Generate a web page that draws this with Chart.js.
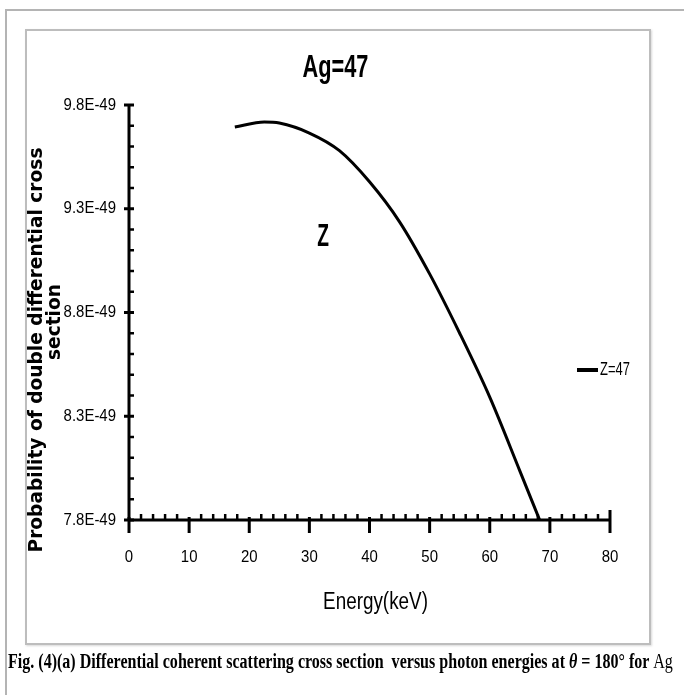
<!DOCTYPE html>
<html>
<head>
<meta charset="utf-8">
<script src="https://cdn.jsdelivr.net/npm/chart.js@4.4.1/dist/chart.umd.min.js"></script>
<style>
  html, body { margin: 0; padding: 0; background: #fff; }
  body { width: 684px; height: 695px; position: relative; overflow: hidden; }
  #outer { position: absolute; left: 5px; top: 9px; width: 720px; height: 720px;
           border-left: 2px solid #b4b4b4; border-top: 2px solid #b4b4b4; }
  #inner { position: absolute; left: 25px; top: 29px; width: 622px; height: 612px;
           border: 2px solid #bdbdbd; box-shadow: 1px 1px 2px #d8d8d8; }
  #wrap { position: absolute; left: 0; top: 0; width: 684px; height: 695px; }
  #caption { position: absolute; left: 8px; top: 650px; white-space: nowrap; color: #000;
             font: bold 20px "Liberation Serif", "Times New Roman", serif; transform-origin: 0 0; }
  #caption .reg { font-weight: normal; }
</style>
</head>
<body>
<div id="outer"></div>
<div id="inner"></div>
<div id="wrap"><canvas id="grafico" width="684" height="695"></canvas></div>
<div id="caption">Fig. (4)(a) Differential coherent scattering cross section&nbsp; versus photon energies at <i>θ</i> = 180° for <span class="reg">Ag</span></div>

<script>
// energia (keV) e seção de choque diferencial para Z = 47
const energias = [17.6, 22.5, 25, 30, 35, 40, 45, 50, 55, 60, 65, 68.3];
const secaoChoque = [9.694e-49, 9.718e-49, 9.713e-49, 9.665e-49, 9.58e-49, 9.43e-49,
                     9.237e-49, 8.986e-49, 8.70e-49, 8.392e-49, 8.037e-49, 7.80e-49];

// ticks dos eixos
const ticksY = [7.8e-49, 8.3e-49, 8.8e-49, 9.3e-49, 9.8e-49];
const ticksX = [0, 10, 20, 30, 40, 50, 60, 70, 80];

const tituloGrafico = 'Ag=47';
const tituloX = 'Energy(keV)';
const tituloY = ['Probability of double differential cross', 'section'];

const sans = '"Liberation Sans", Arial, sans-serif';

// texto comprimido na horizontal (fonte estreita tipo Calibri)
function textoEstreito(ctx, texto, x, y, fonte, escala, alinhamento) {
  ctx.save();
  ctx.font = fonte;
  ctx.fillStyle = '#000';
  ctx.textAlign = alinhamento || 'center';
  ctx.textBaseline = 'middle';
  ctx.translate(x, y);
  ctx.scale(escala, 1);
  ctx.fillText(texto, 0, 0);
  ctx.restore();
}

function rotuloY(v) {
  return (v / 1e-49).toFixed(1) + 'E-49';
}

// EIXOS NO ESTILO EXCEL (linhas grossas, marcas maiores e menores)
const eixosPlugin = {
  id: 'eixosPlugin',
  beforeDatasetsDraw(chart) {
    const ctx = chart.ctx;
    const sx = chart.scales.x;
    const sy = chart.scales.y;
    const x0 = sx.getPixelForValue(0);
    const x1 = sx.getPixelForValue(80);
    const yTop = sy.getPixelForValue(9.8e-49);
    const yBase = sy.getPixelForValue(7.8e-49);

    ctx.save();
    ctx.strokeStyle = '#000';
    ctx.lineCap = 'butt';

    // eixo Y
    ctx.lineWidth = 3;
    ctx.beginPath();
    ctx.moveTo(x0, yTop - 1);
    ctx.lineTo(x0, yBase);
    ctx.stroke();

    // marcas menores Y (a cada 0.1E-49)
    ctx.lineWidth = 2.5;
    for (let i = 1; i < 20; i++) {
      if (i % 5 === 0) continue;
      const py = sy.getPixelForValue(7.8e-49 + i * 0.1e-49);
      ctx.beginPath();
      ctx.moveTo(x0, py);
      ctx.lineTo(x0 + 5, py);
      ctx.stroke();
    }
    // marcas maiores Y
    ctx.lineWidth = 3;
    ticksY.forEach(v => {
      const py = sy.getPixelForValue(v);
      ctx.beginPath();
      ctx.moveTo(x0 - 5, py);
      ctx.lineTo(x0 + 5, py);
      ctx.stroke();
    });

    // eixo X
    ctx.beginPath();
    ctx.moveTo(x0, yBase);
    ctx.lineTo(x1 + 1, yBase);
    ctx.stroke();

    // marcas menores X (a cada 2 keV)
    ctx.lineWidth = 2.5;
    for (let e = 2; e < 80; e += 2) {
      if (e % 10 === 0) continue;
      const px = sx.getPixelForValue(e);
      ctx.beginPath();
      ctx.moveTo(px, yBase);
      ctx.lineTo(px, yBase - 6);
      ctx.stroke();
    }
    // marcas maiores X
    ctx.lineWidth = 3;
    ticksX.forEach(v => {
      const px = sx.getPixelForValue(v);
      const topo = v === 80 ? yBase - 10 : yBase - 3;
      ctx.beginPath();
      ctx.moveTo(px, topo);
      ctx.lineTo(px, yBase + 13);
      ctx.stroke();
    });
    ctx.restore();
  },
  afterDraw(chart) {
    const ctx = chart.ctx;
    const area = chart.chartArea;
    const sx = chart.scales.x;
    const sy = chart.scales.y;

    // rótulos dos ticks
    sy.ticks.forEach(t => {
      textoEstreito(ctx, rotuloY(t.value), area.left - 13, sy.getPixelForValue(t.value),
                    '17px ' + sans, 0.88, 'right');
    });
    sx.ticks.forEach(t => {
      textoEstreito(ctx, String(t.value), sx.getPixelForValue(t.value), area.bottom + 37,
                    '17px ' + sans, 0.88, 'center');
    });

    // títulos
    textoEstreito(ctx, tituloGrafico, (area.left + area.right) / 2 - 34, 68,
                  'bold 32px ' + sans, 0.68, 'center');
    textoEstreito(ctx, tituloX, (area.left + area.right) / 2 + 6, 603,
                  '23px ' + sans, 0.82, 'center');

    // título do eixo Y em duas linhas
    ctx.save();
    ctx.font = 'bold 13px "DejaVu Sans", sans-serif';
    const tam = 13 * 405 / ctx.measureText(tituloY[0]).width;
    ctx.font = 'bold ' + tam.toFixed(2) + 'px "DejaVu Sans", sans-serif';
    ctx.fillStyle = '#000';
    ctx.textAlign = 'center';
    ctx.textBaseline = 'middle';
    ctx.translate(37, 350);
    ctx.rotate(-Math.PI / 2);
    ctx.fillText(tituloY[0], 0, 0);
    ctx.setTransform(1, 0, 0, 1, 0, 0);
    ctx.translate(55, 322);
    ctx.rotate(-Math.PI / 2);
    ctx.fillText(tituloY[1], 0, 0);
    ctx.restore();

    // legenda
    const ds = chart.data.datasets[0];
    const ly = 370;
    ctx.save();
    ctx.strokeStyle = ds.borderColor;
    ctx.lineWidth = 4;
    ctx.beginPath();
    ctx.moveTo(area.right - 33, ly);
    ctx.lineTo(area.right - 12, ly);
    ctx.stroke();
    ctx.restore();
    textoEstreito(ctx, ds.label, area.right - 10, ly, '18px ' + sans, 0.72, 'left');

    // letra solta no meio do gráfico
    textoEstreito(ctx, 'Z', 323, 237, 'bold 32px ' + sans, 0.6, 'center');
  }
};

const ctx = document.getElementById('grafico').getContext('2d');

const grafico = new Chart(ctx, {
  type: 'scatter',
  data: {
    datasets: [{
      label: 'Z=47',
      data: energias.map((e, i) => ({ x: e, y: secaoChoque[i] })),
      showLine: true,
      borderColor: '#000',
      borderWidth: 3,
      pointRadius: 0,
      cubicInterpolationMode: 'monotone'
    }]
  },
  options: {
    responsive: false,
    animation: false,
    layout: {
      padding: { left: 129, right: 74, top: 105, bottom: 175 }
    },
    plugins: {
      legend: { display: false },
      tooltip: { enabled: false },
      title: { display: false }
    },
    scales: {
      x: {
        type: 'linear',
        min: 0,
        max: 80,
        grid: { display: false, drawTicks: false },
        border: { display: false },
        ticks: { display: false },
        afterBuildTicks: s => { s.ticks = ticksX.map(v => ({ value: v })); },
        afterFit: s => { s.height = 0; }
      },
      y: {
        type: 'linear',
        min: 7.8e-49,
        max: 9.8e-49,
        grid: { display: false, drawTicks: false },
        border: { display: false },
        ticks: { display: false },
        afterBuildTicks: s => { s.ticks = ticksY.map(v => ({ value: v })); },
        afterFit: s => { s.width = 0; }
      }
    }
  },
  plugins: [eixosPlugin]
});

// legenda da figura ajustada à largura da página
const legenda = document.getElementById('caption');
legenda.style.transform = 'scaleX(' + (665 / legenda.scrollWidth).toFixed(4) + ')';
</script>
</body>
</html>
